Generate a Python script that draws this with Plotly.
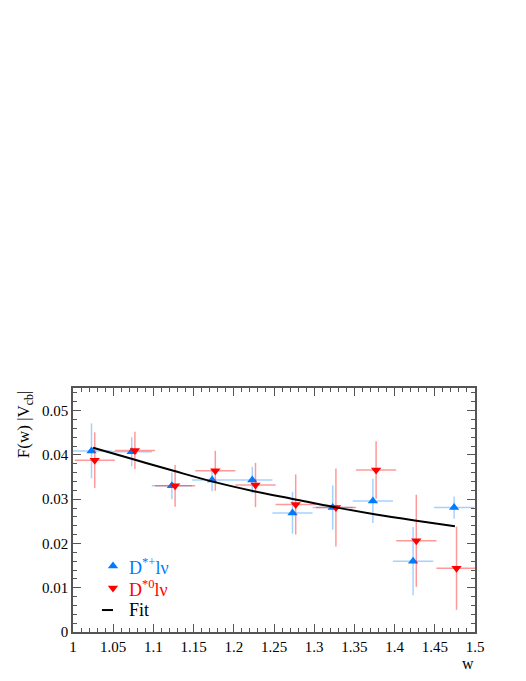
import plotly.graph_objects as go

# ---- data ----
w_blue = [1.023, 1.073, 1.123, 1.173, 1.223, 1.273, 1.323, 1.373, 1.423, 1.474]
F_blue = [0.0409, 0.0407, 0.0330, 0.0343, 0.0343, 0.0269, 0.0281, 0.0296, 0.0160, 0.0281]
Ferr_blue = [0.0062, 0.0033, 0.0030, 0.0025, 0.0030, 0.0047, 0.0050, 0.0050, 0.0077, 0.0025]
werr_blue = [0.025] * 10

w_red = [1.027, 1.077, 1.127, 1.177, 1.227, 1.277, 1.327, 1.377, 1.427, 1.477]
F_red = [0.0388, 0.0410, 0.0330, 0.0364, 0.0332, 0.0288, 0.0281, 0.0366, 0.0206, 0.0144]
Ferr_red = [0.0063, 0.0042, 0.0047, 0.0045, 0.0050, 0.0068, 0.0088, 0.0065, 0.0104, 0.0094]
werr_red = [0.025] * 10

w_fit = [1.025, 1.075, 1.125, 1.175, 1.225, 1.275, 1.325, 1.375, 1.425, 1.475]
F_fit = [0.0416, 0.0390, 0.0364, 0.0339, 0.0318, 0.0300, 0.0282, 0.0266, 0.0252, 0.0239]

x_ticks = [1, 1.05, 1.1, 1.15, 1.2, 1.25, 1.3, 1.35, 1.4, 1.45, 1.5]
x_ticklabels = ["1", "1.05", "1.1", "1.15", "1.2", "1.25", "1.3", "1.35", "1.4", "1.45", "1.5"]
y_ticks = [0, 0.01, 0.02, 0.03, 0.04, 0.05]
y_ticklabels = ["0", "0.01", "0.02", "0.03", "0.04", "0.05"]

legend_labels = ["D<sup>*+</sup>lν", "D<sup>*0</sup>lν", "Fit"]

BLUE = "rgb(0,122,255)"
BLUE_ERR = "rgba(0,122,255,0.35)"
RED = "rgb(255,0,0)"
RED_ERR = "rgba(255,0,0,0.4)"
FONT = "Liberation Serif, Times New Roman, serif"

fig = go.Figure()

fig.add_trace(go.Scatter(
    x=w_blue, y=F_blue, mode="markers",
    marker=dict(symbol="triangle-up", size=9, color=BLUE),
    error_x=dict(type="data", array=werr_blue, color=BLUE_ERR, thickness=1.5, width=0),
    error_y=dict(type="data", array=Ferr_blue, color=BLUE_ERR, thickness=1.5, width=0),
    showlegend=False))

fig.add_trace(go.Scatter(
    x=w_red, y=F_red, mode="markers",
    marker=dict(symbol="triangle-down", size=9, color=RED),
    error_x=dict(type="data", array=werr_red, color=RED_ERR, thickness=1.5, width=0),
    error_y=dict(type="data", array=Ferr_red, color=RED_ERR, thickness=1.5, width=0),
    showlegend=False))

fig.add_trace(go.Scatter(
    x=w_fit, y=F_fit, mode="lines",
    line=dict(color="black", width=2, shape="spline"),
    showlegend=False))

# manual legend markers on an overlay axis in [0,1]
fig.add_trace(go.Scatter(
    x=[0.0995], y=[0.270], mode="markers", xaxis="x2", yaxis="y2",
    marker=dict(symbol="triangle-up", size=9, color=BLUE), showlegend=False))
fig.add_trace(go.Scatter(
    x=[0.0995], y=[0.180], mode="markers", xaxis="x2", yaxis="y2",
    marker=dict(symbol="triangle-down", size=9, color=RED), showlegend=False))
fig.add_trace(go.Scatter(
    x=[0.072, 0.0995], y=[0.090, 0.090], mode="lines", xaxis="x2", yaxis="y2",
    line=dict(color="black", width=2), showlegend=False))

axis_common = dict(
    ticks="inside", mirror="allticks", showline=True, linecolor="#555555", linewidth=1.5,
    tickcolor="#555555", ticklen=8, tickwidth=1, showgrid=False, zeroline=False,
    tickfont=dict(family=FONT, size=15, color="black"),
)

# page body has an 8px default margin, so the figure is offset by 8px
fig.update_layout(
    width=518, height=673,
    margin=dict(l=65, r=51, t=380, b=49),
    paper_bgcolor="white", plot_bgcolor="white",
    font=dict(family=FONT, color="black"),
    xaxis=dict(range=[1, 1.5], tickvals=x_ticks, ticktext=x_ticklabels,
               minor=dict(dtick=0.01, ticks="inside", ticklen=4, tickcolor="#555555", showgrid=False),
               **axis_common),
    yaxis=dict(range=[0, 0.0551], tickvals=y_ticks, ticktext=y_ticklabels,
               minor=dict(dtick=0.002, ticks="inside", ticklen=4, tickcolor="#555555", showgrid=False),
               **axis_common),
    xaxis2=dict(overlaying="x", range=[0, 1], visible=False),
    yaxis2=dict(overlaying="y", range=[0, 1], visible=False),
    annotations=[
        dict(text="F(w) |V<sub>cb</sub>|", textangle=-90, xref="paper", yref="paper",
             x=-0.119, y=1.0, xanchor="center", yanchor="top", showarrow=False,
             font=dict(family=FONT, size=17, color="black")),
        dict(text="w", xref="paper", yref="paper", x=0.983, y=-0.131,
             xanchor="center", yanchor="middle", showarrow=False,
             font=dict(family=FONT, size=16, color="black")),
        dict(text=legend_labels[0], xref="paper", yref="paper", x=0.134, y=0.270,
             xanchor="left", yanchor="middle", showarrow=False,
             font=dict(family=FONT, size=18, color=BLUE)),
        dict(text=legend_labels[1], xref="paper", yref="paper", x=0.134, y=0.180,
             xanchor="left", yanchor="middle", showarrow=False,
             font=dict(family=FONT, size=18, color=RED)),
        dict(text=legend_labels[2], xref="paper", yref="paper", x=0.134, y=0.090,
             xanchor="left", yanchor="middle", showarrow=False,
             font=dict(family=FONT, size=18, color="black")),
    ],
)

fig.write_html("out.html")
